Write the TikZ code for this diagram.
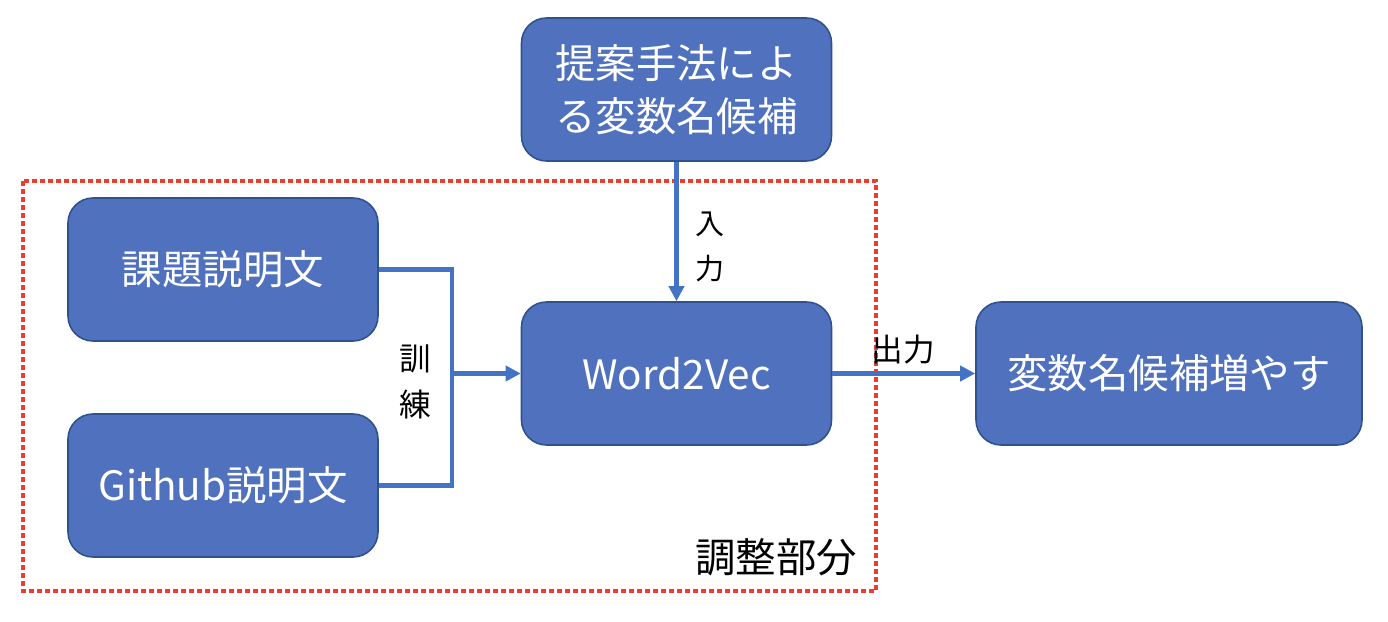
\documentclass[tikz,border=0pt]{standalone}
\usepackage{fontspec}
\setmainfont{Noto Sans CJK JP}
\usetikzlibrary{arrows.meta}
\definecolor{boxfill}{HTML}{4F71BE}
\definecolor{boxdraw}{HTML}{2F528F}
\definecolor{linec}{HTML}{4472C4}
\definecolor{redd}{HTML}{F03C2E}
\tikzset{
  box/.style={draw=boxdraw, line width=0.9pt, fill=boxfill, rounded corners=0.5cm,
    minimum width=6.2cm, minimum height=2.86cm, text=white, font=\fontsize{23}{30}\selectfont, align=center, inner sep=0pt},
  conn/.style={draw=linec, line width=2.3pt},
  arr/.style={conn, -{Triangle[length=0.3cm,width=0.3cm]}},
  lbl/.style={font=\fontsize{18}{24}\selectfont, text=black, align=center, inner sep=0pt},
}
\begin{document}
\begin{tikzpicture}
\useasboundingbox (0,0) rectangle (27.76,-12.44);
\draw[redd, line width=2.8pt, dash pattern=on 0.09cm off 0.07cm] (0.46,-3.62) rectangle (17.52,-11.82);
\node[box] (top) at (13.53,-1.79) {提案手法によ\\る変数名候補};
\node[box] (kadai) at (4.46,-5.39) {課題説明文};
\node[box] (github) at (4.46,-9.71) {Github説明文};
\node[box] (w2v) at (13.53,-7.47) {Word2Vec};
\node[box, minimum width=7.72cm] (out) at (23.38,-7.47) {変数名候補増やす};
\coordinate (j) at (9.04,-7.47);
\draw[conn] (kadai.east) -| (j);
\draw[conn] (github.east) -| (j);
\draw[arr] (j) -- (w2v.west);
\draw[arr] (top.south) -- (w2v.north);
\draw[arr] (w2v.east) -- (out.west);
\node[lbl] (kunren) at (8.3,-7.64) {訓\\[2pt]練};
\node[lbl, font=\fontsize{16.5}{26}\selectfont] (nyuryoku) at (14.2,-4.94) {入\\力};
\node[lbl] (shutsu) at (18.06,-7.0) {出力};
\node[lbl, font=\fontsize{23}{30}\selectfont] (chosei) at (15.52,-11.14) {調整部分};
\end{tikzpicture}
\end{document}
